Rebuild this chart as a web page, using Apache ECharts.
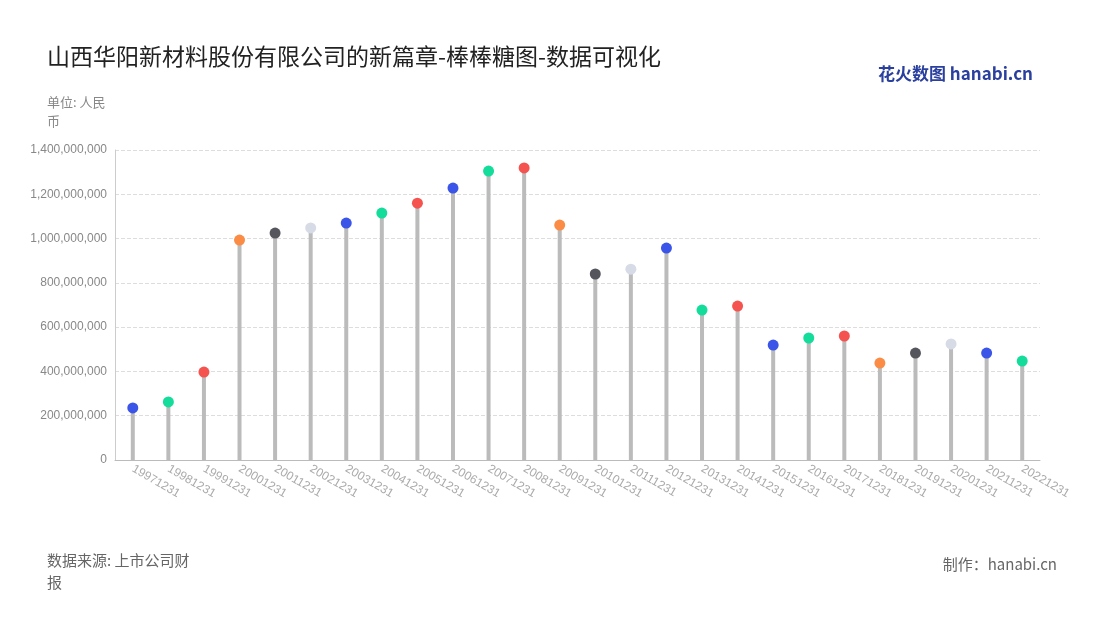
<!DOCTYPE html>
<html>
<head>
<meta charset="utf-8">
<script src="https://cdn.jsdelivr.net/npm/echarts@6/dist/echarts.min.js"></script>
<style>body{margin:0}#main{width:1100px;height:620px}</style>
</head>
<body>
<div id="main"></div>
<script>
var years = ['19971231','19981231','19991231','20001231','20011231','20021231','20031231','20041231','20051231','20061231','20071231','20081231','20091231','20101231','20111231','20121231','20131231','20141231','20151231','20161231','20171231','20181231','20191231','20201231','20211231','20221231'];
var values = [235e6,262e6,397e6,993e6,1025e6,1048e6,1070e6,1115e6,1160e6,1228e6,1305e6,1319e6,1061e6,840e6,862e6,957e6,677e6,695e6,519e6,551e6,560e6,438e6,483e6,524e6,483e6,447e6];
var B='#3a55e8',G='#14dc9a',R='#f5534f',O='#fb8c45',D='#55555e',L='#d6dbe6';
var dotColors = [B,G,R,O,D,L,B,G,R,B,G,R,O,D,L,B,G,R,B,G,R,O,D,L,B,G];

var chart = echarts.init(document.getElementById('main'));
chart.setOption({
  animation:false,
  title:[
    {text:'山西华阳新材料股份有限公司的新篇章-棒棒糖图-数据可视化',left:42,top:40,textStyle:{fontSize:23,fontWeight:'normal',color:'#222',fontFamily:'Noto Sans CJK SC'}},
    {text:'单位: 人民\n币',left:42,top:88,textStyle:{fontSize:13,fontWeight:'normal',color:'#888',lineHeight:19,fontFamily:'Noto Sans CJK SC'}},
    {text:'数据来源: 上市公司财\n报',left:42,bottom:22,textStyle:{fontSize:15,fontWeight:'normal',color:'#666',lineHeight:22,fontFamily:'Noto Sans CJK SC'}},
    {text:'制作：hanabi.cn',right:38,bottom:43,textStyle:{fontSize:15,fontWeight:'normal',color:'#666',fontFamily:'Noto Sans CJK SC'}},
    {text:'花火数图 hanabi.cn',right:62,top:60,textStyle:{fontSize:17,fontWeight:'bold',color:'#2a3f9e',fontFamily:'Noto Sans CJK SC'}}
  ],
  grid:{left:115,right:60,top:150,bottom:160},
  xAxis:{type:'category',data:years,
    axisLine:{lineStyle:{color:'#bbb'}},axisTick:{show:false},
    axisLabel:{rotate:-30,color:'#aaa',fontSize:12,interval:0}},
  yAxis:{type:'value',min:0,max:1400000000,interval:200000000,
    axisLine:{show:true,lineStyle:{color:'#ccc'}},
    axisLabel:{color:'#888',fontSize:12,formatter:function(v){return v.toLocaleString('en-US');}},
    splitLine:{lineStyle:{type:'dashed',color:'#ddd'}}},
  series:[
    {type:'bar',data:values,barWidth:4,itemStyle:{color:'#bbbbbb'}},
    {type:'scatter',data:values,symbolSize:11,z:5,
      itemStyle:{opacity:1,color:function(p){return dotColors[p.dataIndex];}}}
  ]
});
</script>
</body>
</html>
